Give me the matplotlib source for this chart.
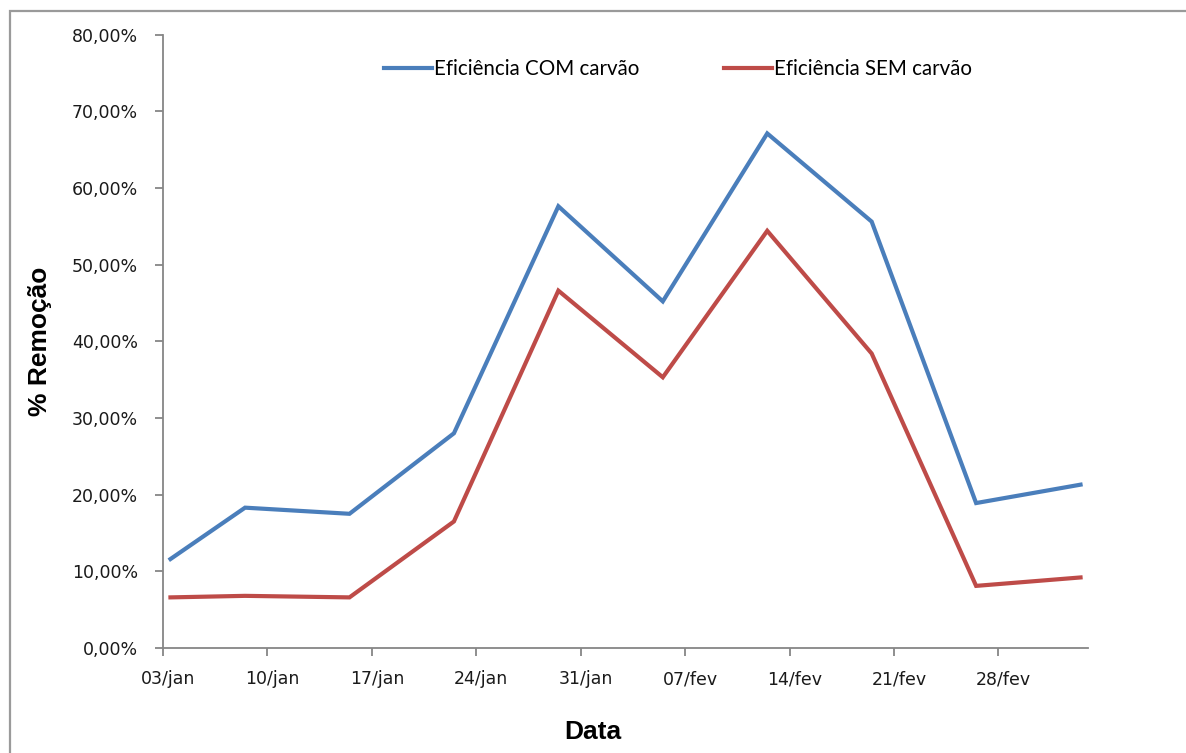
import numpy as np
import matplotlib
matplotlib.use("Agg")
import matplotlib.pyplot as plt
import matplotlib.dates as mdates
from matplotlib.patches import Rectangle
from matplotlib.ticker import FuncFormatter, MultipleLocator
from matplotlib.transforms import ScaledTranslation

# sampling dates and removal efficiency (%)
datas = np.array(["2011-01-03", "2011-01-08", "2011-01-15", "2011-01-22", "2011-01-29",
                  "2011-02-05", "2011-02-12", "2011-02-19", "2011-02-26", "2011-03-05"],
                 dtype="datetime64[D]")
com_carvao = [11.6, 18.3, 17.5, 28.0, 57.6, 45.2, 67.1, 55.6, 18.9, 21.3]
sem_carvao = [6.6, 6.8, 6.6, 16.5, 46.6, 35.3, 54.4, 38.4, 8.1, 9.2]
meses = ["jan", "fev", "mar", "abr", "mai", "jun", "jul", "ago", "set", "out", "nov", "dez"]

AZUL, VERMELHO, CINZA = "#4A7EBB", "#BE4B48", "#868686"

fig = plt.figure(figsize=(11.86, 7.53), dpi=100)
ax = fig.add_axes([163 / 1186, 1 - 648 / 753, (1088 - 163) / 1186, (648 - 34.5) / 753])

# outer chart border (runs off the right/bottom edges)
fig.patches.append(Rectangle((10 / 1186, -0.1), 1.2, 1.1 - 11 / 753, transform=fig.transFigure,
                             fill=False, edgecolor="#9a9a9a", lw=1.6))

# Excel date axis: each day is a slot, points sit mid-slot
x = mdates.date2num(datas.astype("datetime64[s]").astype(object)) + 0.5
ax.plot(x, com_carvao, color=AZUL, lw=3, solid_joinstyle="miter", label="Eficiência COM carvão")
ax.plot(x, sem_carvao, color=VERMELHO, lw=3, solid_joinstyle="miter", label="Eficiência SEM carvão")

x0 = mdates.date2num(np.datetime64("2011-01-03").astype(object))
ax.set_xlim(x0, x0 + 62)
ax.set_ylim(0, 80)
ax.set_xticks(np.arange(x0, x0 + 57, 7))
ax.xaxis.set_major_formatter(FuncFormatter(
    lambda v, p: f"{mdates.num2date(v).day:02d}/{meses[mdates.num2date(v).month - 1]}"))
ax.yaxis.set_major_locator(MultipleLocator(10))
ax.yaxis.set_major_formatter(FuncFormatter(lambda v, p: f"{v:.2f}%".replace(".", ",")))

for s in ("top", "right"):
    ax.spines[s].set_visible(False)
for s in ("left", "bottom"):
    ax.spines[s].set_color(CINZA)
    ax.spines[s].set_linewidth(1.3)
ax.tick_params(axis="both", colors=CINZA, length=6, width=1.3, labelcolor="#1a1a1a", labelsize=12.5)
ax.tick_params(axis="x", pad=10)
ax.tick_params(axis="y", pad=12)
for lbl in ax.get_xticklabels():
    lbl.set_transform(lbl.get_transform() + ScaledTranslation(5 / 100, 0, fig.dpi_scale_trans))

ax.set_xlabel("Data", fontsize=19, fontweight="bold", family="Liberation Sans")
ax.xaxis.set_label_coords(0.465, -0.117)
ax.set_ylabel("% Remoção", fontsize=19, fontweight="bold", family="Liberation Sans", labelpad=14)

ax.legend(loc="upper left", bbox_to_anchor=(0.2303, 0.973), ncol=2, frameon=False,
          prop={"family": "Lato", "size": 14.8}, handlelength=2.33, handletextpad=0.1,
          columnspacing=4.1, borderaxespad=0)

fig.savefig("out.png", dpi=100, facecolor="white")
